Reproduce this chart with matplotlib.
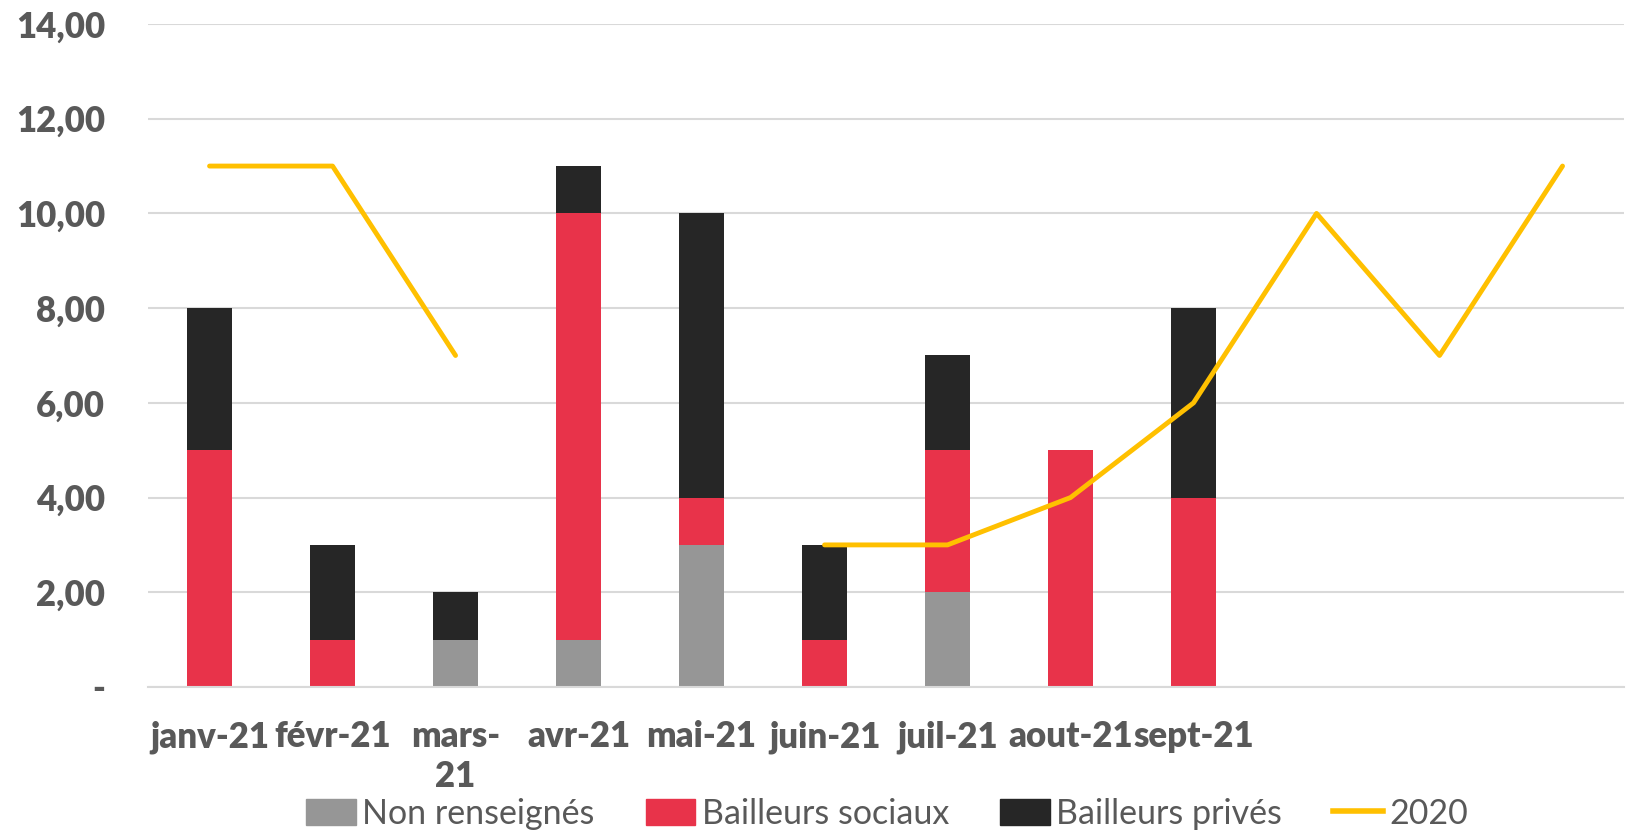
import numpy as np
import matplotlib.pyplot as plt
from matplotlib.patches import Patch
from matplotlib.lines import Line2D

plt.rcParams['font.family'] = ['Lato', 'DejaVu Sans']

mois = ["janv-21", "févr-21", "mars-\n21", "avr-21", "mai-21", "juin-21",
        "juil-21", "aout-21", "sept-21", "", "", ""]
non_renseignes = [0, 0, 1, 1, 3, 0, 2, 0, 0, 0, 0, 0]
bailleurs_sociaux = [5, 1, 0, 9, 1, 1, 3, 5, 4, 0, 0, 0]
bailleurs_prives = [3, 2, 1, 1, 6, 2, 2, 0, 4, 0, 0, 0]
serie_2020 = [11, 11, 7, np.nan, np.nan, 3, 3, 4, 6, 10, 7, 11]

GRIS = '#969696'
ROUGE = '#E8334A'
NOIR = '#262626'
JAUNE = '#FFC000'
TEXTE = '#595959'

fig = plt.figure(figsize=(16.34, 8.33), dpi=100)
ax = fig.add_axes([0.0906, 0.1753, 0.9033, 0.7959])

x = np.arange(len(mois))
nr = np.array(non_renseignes)
bs = np.array(bailleurs_sociaux)
bp = np.array(bailleurs_prives)
w = 0.36

ax.bar(x, nr, w, color=GRIS, zorder=2)
ax.bar(x, bs, w, bottom=nr, color=ROUGE, zorder=2)
ax.bar(x, bp, w, bottom=nr + bs, color=NOIR, zorder=2)
ax.plot(x, serie_2020, color=JAUNE, lw=3.5, solid_capstyle='round', zorder=3)

ax.set_xlim(-0.5, len(mois) - 0.5)
ax.set_ylim(0, 14)
yt = np.arange(0, 15, 2)
ax.set_yticks(yt)
ax.set_yticklabels(["-" if v == 0 else f"{v:.2f}".replace('.', ',') for v in yt])
ax.set_xticks(x)
ax.set_xticklabels(mois)
ax.tick_params(axis='both', length=0, labelcolor=TEXTE, labelsize=25)
ax.tick_params(axis='y', pad=31)
ax.tick_params(axis='x', pad=24)
for lab in ax.get_xticklabels() + ax.get_yticklabels():
    lab.set_fontweight('heavy')
for lab in ax.get_xticklabels():
    lab.set_linespacing(1.25)

ax.grid(axis='y', color='#D9D9D9', lw=1.5, zorder=0)
for s in ['top', 'right', 'left']:
    ax.spines[s].set_visible(False)
ax.spines['bottom'].set_color('#D9D9D9')
ax.spines['bottom'].set_linewidth(1.5)

handles = [Patch(color=GRIS, label='Non renseignés'),
           Patch(color=ROUGE, label='Bailleurs sociaux'),
           Patch(color=NOIR, label='Bailleurs privés'),
           Line2D([], [], color=JAUNE, lw=4, label='2020')]
leg = fig.legend(handles=handles, loc='center', bbox_to_anchor=(0.543, 0.023), ncol=4,
                 frameon=False, fontsize=24.5, handlelength=1.45, handleheight=0.8,
                 handletextpad=0.2, columnspacing=1.5)
for t in leg.get_texts():
    t.set_color(TEXTE)

fig.savefig('out.png', dpi=100)
